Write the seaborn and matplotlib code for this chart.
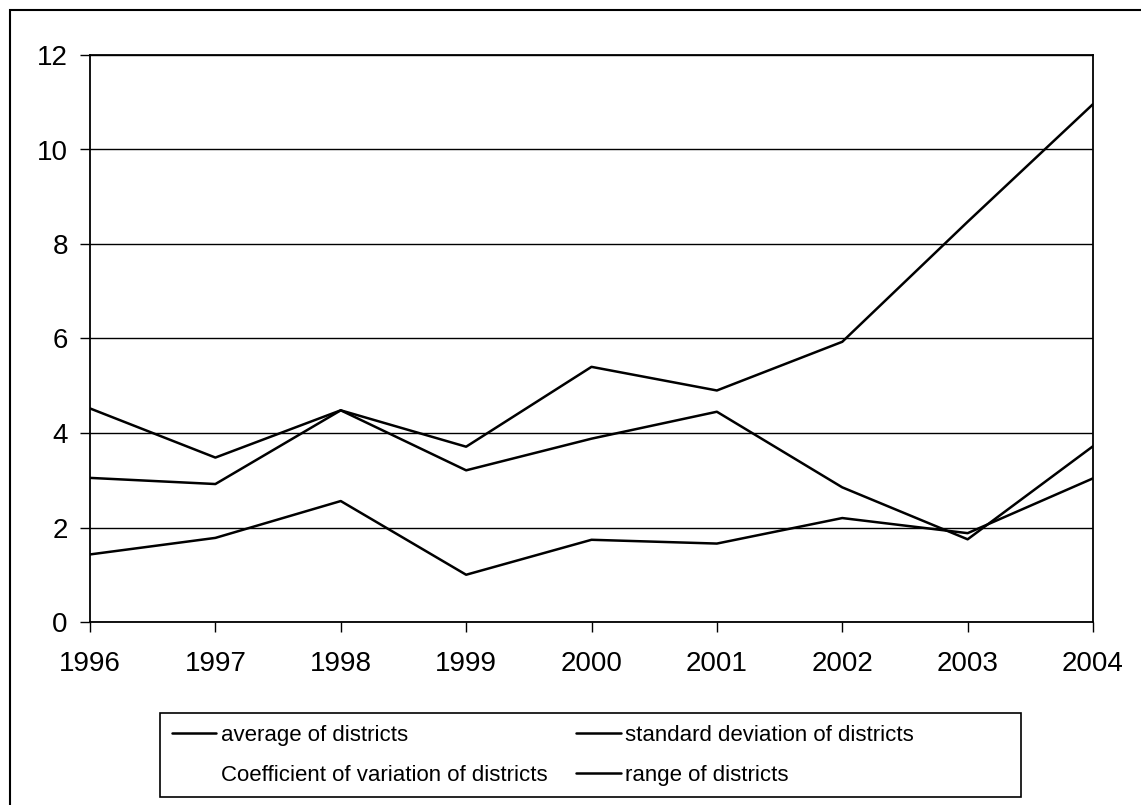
import matplotlib
matplotlib.use("Agg")
import pandas as pd
import matplotlib.pyplot as plt
import seaborn as sns
from matplotlib.lines import Line2D
from matplotlib.patches import Rectangle

years = [1996, 1997, 1998, 1999, 2000, 2001, 2002, 2003, 2004]
average = [3.05, 2.92, 4.48, 3.21, 3.88, 4.45, 2.85, 1.75, 3.72]
std_dev = [1.43, 1.78, 2.56, 1.00, 1.74, 1.66, 2.20, 1.88, 3.04]
value_range = [4.52, 3.48, 4.48, 3.71, 5.40, 4.90, 5.93, 8.47, 10.96]

df = pd.DataFrame({"year": years,
                   "average of districts": average,
                   "standard deviation of districts": std_dev,
                   "range of districts": value_range})

sns.set_style("white")
plt.rcParams['font.family'] = ['Liberation Sans', 'DejaVu Sans']
plt.rcParams['text.color'] = 'black'

fig = plt.figure(figsize=(11.41, 8.05), dpi=100)
ax = fig.add_axes([90 / 1141, 183 / 805, 1003 / 1141, 567 / 805])

for col in ["average of districts", "standard deviation of districts", "range of districts"]:
    sns.lineplot(data=df, x="year", y=col, ax=ax, color="black", linewidth=1.8)

ax.set_xlim(1996, 2004)
ax.set_ylim(0, 12)
ax.set_xticks(years)
ax.set_yticks(range(0, 13, 2))
ax.set_xlabel("")
ax.set_ylabel("")
ax.grid(axis="y", color="black", linewidth=1)
ax.tick_params(axis="x", direction="out", length=7, width=1, pad=14, labelsize=20,
               bottom=True, colors="black")
ax.tick_params(axis="y", direction="out", length=7, width=1, pad=9, labelsize=20,
               left=True, colors="black")
for s in ax.spines.values():
    s.set_color("black")
    s.set_linewidth(1.3)

# legend, Coefficient of variation has no visible line
handles = [Line2D([], [], color="black", lw=1.8),
           Line2D([], [], color="none"),
           Line2D([], [], color="black", lw=1.8),
           Line2D([], [], color="black", lw=1.8)]
labels = ["average of districts", "Coefficient of variation of districts",
          "standard deviation of districts", "range of districts"]
leg = fig.legend(handles, labels, ncol=2, loc="upper left",
                 bbox_to_anchor=(172 / 1141, 80 / 805),
                 fontsize=16, frameon=False, handlelength=2.0,
                 handletextpad=0.2, labelspacing=0.85, columnspacing=1.3,
                 borderpad=0, borderaxespad=0)
for t in leg.get_texts():
    t.set_color("black")

# legend box
fig.patches.append(Rectangle((160 / 1141, 8 / 805), 861 / 1141, 84 / 805,
                             transform=fig.transFigure, fill=False,
                             edgecolor="black", linewidth=1.2))

# outer chart border
fig.patches.append(Rectangle((10 / 1141, -0.1), 1.2, 795 / 805 + 0.1,
                             transform=fig.transFigure, fill=False,
                             edgecolor="black", linewidth=1.5, clip_on=False))

fig.savefig("out.png", dpi=100)
